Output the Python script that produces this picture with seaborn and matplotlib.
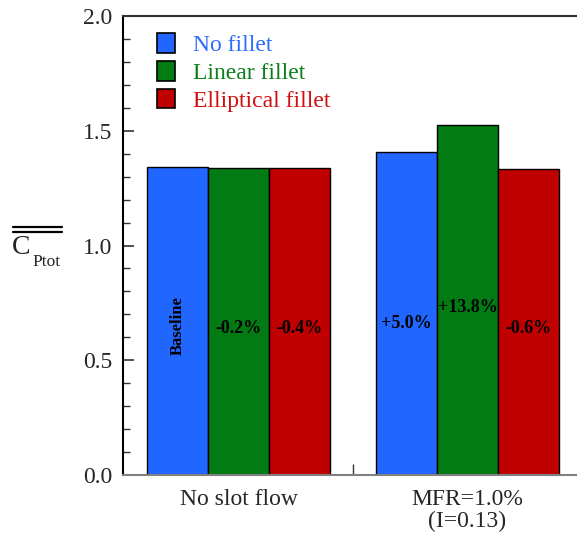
import matplotlib
matplotlib.use("Agg")
import matplotlib.pyplot as plt
from matplotlib.lines import Line2D
from matplotlib.patches import Patch
from matplotlib.ticker import MultipleLocator
import seaborn as sns
import pandas as pd

conditions = ["No slot flow", "MFR=1.0%\n(I=0.13)"]
fillets = ["No fillet", "Linear fillet", "Elliptical fillet"]
no_fillet = [1.342, 1.409]
linear_fillet = [1.339, 1.527]
elliptical_fillet = [1.337, 1.334]
bar_labels_no_fillet = ["Baseline", "+5.0%"]
bar_labels_linear = ["-0.2%", "+13.8%"]
bar_labels_elliptical = ["-0.4%", "-0.6%"]
label_heights_no_fillet = [0.65, 0.66]
label_heights_linear = [0.64, 0.73]
label_heights_elliptical = [0.64, 0.64]

colors = ["#2166FE", "#037B14", "#C00000"]
text_colors = ["#2E6BFF", "#0A7F1A", "#D01010"]

rows = []
for series_name, vals in zip(fillets, [no_fillet, linear_fillet, elliptical_fillet]):
    for c, v in zip(conditions, vals):
        rows.append({"condition": c, "fillet": series_name, "value": v})
df = pd.DataFrame(rows)

sns.set_theme(style="white")
plt.rcParams["font.family"] = ["Liberation Serif", "DejaVu Serif"]

fig = plt.figure(figsize=(5.77, 5.37), dpi=100)
ax = fig.add_axes([123 / 577, 62 / 537, 454 / 577, 459 / 537])

sns.barplot(data=df, x="condition", y="value", hue="fillet", order=conditions,
            hue_order=fillets, palette=colors, edgecolor="black", linewidth=1.0,
            width=0.8, saturation=1, ax=ax, legend=False)

ax.set_ylim(0, 2.0)
ax.set_xlim(-0.504, 1.478)
ax.yaxis.set_major_locator(MultipleLocator(0.5))
ax.yaxis.set_minor_locator(MultipleLocator(0.1))
ax.set_yticklabels([f"{t:.1f}" for t in ax.get_yticks()])
ax.tick_params(axis="y", which="major", direction="in", length=8, width=1.2,
               labelsize=17, color="#333333", left=True, pad=8)
ax.tick_params(axis="y", which="minor", direction="in", length=5, width=1.0,
               color="#333333", left=True)
ax.set_xticks([0, 1])
ax.set_xticklabels(conditions, fontsize=17, linespacing=1.05)
ax.tick_params(axis="x", which="major", length=0, pad=10)
ax.set_xticks([0.5], minor=True)
ax.tick_params(axis="x", which="minor", direction="in", length=8, width=1.0,
               color="#333333", bottom=True)
ax.set_xlabel("")
ax.set_ylabel("")

for side in ["left", "top", "bottom", "right"]:
    ax.spines[side].set_linewidth(1.5)
ax.spines["left"].set_color("black")
ax.spines["top"].set_color("#333333")
ax.spines["bottom"].set_color("#808080")
ax.spines["right"].set_visible(False)

# bar annotations
patches = sorted(ax.patches, key=lambda p: p.get_x())
patch_x = [p.get_x() + p.get_width() / 2 for p in patches]
groups = [
    (bar_labels_no_fillet, label_heights_no_fillet, 0),
    (bar_labels_linear, label_heights_linear, 1),
    (bar_labels_elliptical, label_heights_elliptical, 2),
]
for labels, heights, k in groups:
    for ci in range(len(conditions)):
        xpos = patch_x[ci * 3 + k]
        rot = 90 if labels[ci] == "Baseline" else 0
        fs = 12 if rot else 13
        ax.text(xpos, heights[ci], labels[ci], ha="center", va="center",
                rotation=rot, fontsize=fs, fontweight="bold", color="black")

# legend
handles = [Patch(facecolor=c, edgecolor="black", linewidth=1.2) for c in colors]
leg = ax.legend(handles, fillets, loc="upper left", bbox_to_anchor=(0.074, 0.962),
                frameon=False, fontsize=17, handlelength=0.78, handleheight=0.9,
                handletextpad=0.75, labelspacing=0.2, borderaxespad=0,
                borderpad=0)
for t, c in zip(leg.get_texts(), text_colors):
    t.set_color(c)

# y label: C_Ptot with double overline
fig.text(12 / 577, 1 - 247 / 537, "C", fontsize=20, ha="left", va="center")
fig.text(32 / 577, 1 - 262 / 537, "Ptot", fontsize=12.5, ha="left", va="center")
for yy in [227, 232]:
    fig.add_artist(Line2D([13 / 577, 62 / 577], [1 - yy / 537, 1 - yy / 537],
                          color="black", linewidth=1.6, transform=fig.transFigure))

fig.savefig("out.png", dpi=100)
